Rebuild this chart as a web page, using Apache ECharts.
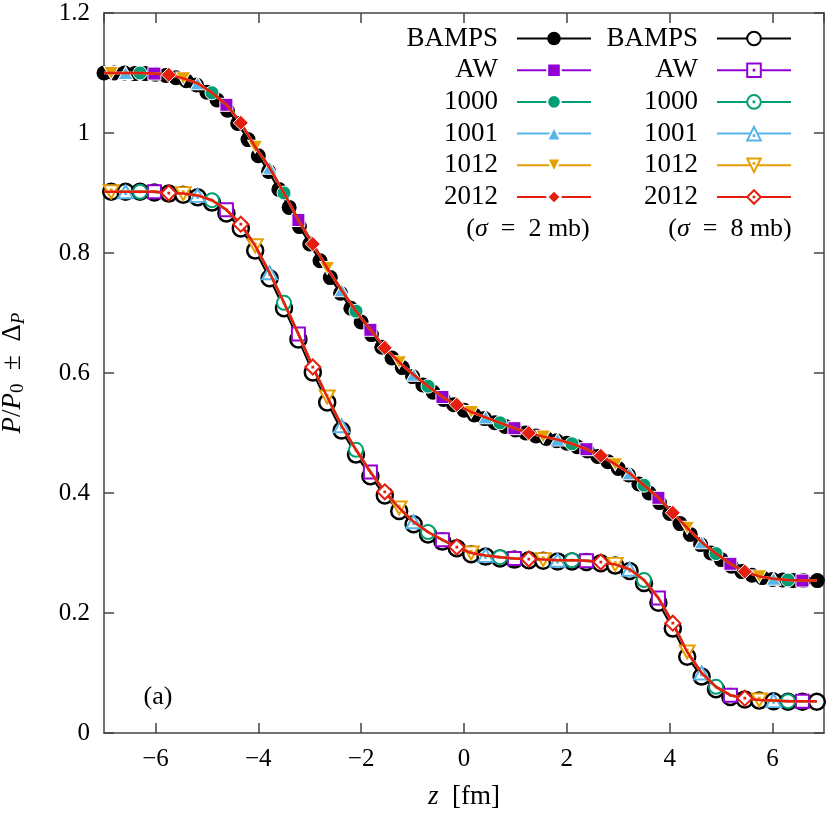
<!DOCTYPE html>
<html>
<head>
<meta charset="utf-8">
<script src="https://cdn.jsdelivr.net/npm/echarts@6/dist/echarts.min.js"></script>
<style>
  html, body { margin: 0; padding: 0; background: #fff; }
  #chart { width: 830px; height: 814px; }
</style>
</head>
<body>
<div id="chart"></div>
<script>
// z grid of the model curves (fm)
const zModel = [-7.0,
  -6.86, -6.58, -6.30, -6.02, -5.74, -5.46, -5.18, -4.90, -4.62, -4.34,
  -4.06, -3.78, -3.50, -3.22, -2.94, -2.66, -2.38, -2.10, -1.82, -1.54,
  -1.26, -0.98, -0.70, -0.42, -0.14, 0.14, 0.42, 0.70, 0.98, 1.26,
  1.54, 1.82, 2.10, 2.38, 2.66, 2.94, 3.22, 3.50, 3.78, 4.06,
  4.34, 4.62, 4.90, 5.18, 5.46, 5.74, 6.02, 6.30, 6.58, 6.86];

// sigma = 2 mb, model curve (all models lie on top of each other)
const upperModel = [1.100,
  1.100, 1.100, 1.100, 1.099, 1.097, 1.091, 1.083, 1.067, 1.047, 1.017,
  0.977, 0.942, 0.900, 0.855, 0.815, 0.775, 0.738, 0.703, 0.672, 0.642,
  0.618, 0.597, 0.578, 0.560, 0.547, 0.535, 0.526, 0.517, 0.508, 0.500,
  0.494, 0.489, 0.482, 0.473, 0.462, 0.448, 0.433, 0.413, 0.392, 0.367,
  0.342, 0.318, 0.299, 0.282, 0.269, 0.261, 0.257, 0.255, 0.254, 0.254];

// sigma = 8 mb, model curve
const lowerModel = [0.902,
  0.902, 0.902, 0.902, 0.902, 0.900, 0.899, 0.896, 0.888, 0.872, 0.848,
  0.812, 0.767, 0.717, 0.665, 0.610, 0.560, 0.512, 0.472, 0.435, 0.402,
  0.375, 0.352, 0.335, 0.322, 0.310, 0.300, 0.296, 0.293, 0.291, 0.290,
  0.289, 0.288, 0.288, 0.287, 0.285, 0.281, 0.273, 0.255, 0.225, 0.183,
  0.135, 0.100, 0.077, 0.063, 0.058, 0.055, 0.054, 0.053, 0.053, 0.053];

// BAMPS sigma = 2 mb
const zBampsUp = [-7.0, -6.8, -6.6, -6.4, -6.2, -6.0, -5.8, -5.6, -5.4, -5.2,
  -5.0, -4.8, -4.6, -4.4, -4.2, -4.0, -3.8, -3.6, -3.4, -3.2,
  -3.0, -2.8, -2.6, -2.4, -2.2, -2.0, -1.8, -1.6, -1.4, -1.2,
  -1.0, -0.8, -0.6, -0.4, -0.2, 0.0, 0.2, 0.4, 0.6, 0.8,
  1.0, 1.2, 1.4, 1.6, 1.8, 2.0, 2.2, 2.4, 2.6, 2.8,
  3.0, 3.2, 3.4, 3.6, 3.8, 4.0, 4.2, 4.4, 4.6, 4.8,
  5.0, 5.2, 5.4, 5.6, 5.8, 6.0, 6.2, 6.4, 6.6, 6.87];
const bampsUp = [1.100, 1.100, 1.100, 1.099, 1.099, 1.098, 1.096, 1.092, 1.087, 1.080,
  1.068, 1.055, 1.038, 1.016, 0.989, 0.962, 0.936, 0.906, 0.876, 0.844,
  0.815, 0.787, 0.759, 0.733, 0.708, 0.685, 0.664, 0.643, 0.625, 0.609,
  0.594, 0.580, 0.568, 0.556, 0.547, 0.538, 0.530, 0.524, 0.517, 0.511,
  0.505, 0.500, 0.495, 0.491, 0.487, 0.483, 0.477, 0.470, 0.461, 0.452,
  0.441, 0.430, 0.415, 0.400, 0.384, 0.366, 0.349, 0.331, 0.314, 0.300,
  0.289, 0.278, 0.269, 0.263, 0.259, 0.256, 0.255, 0.254, 0.254, 0.254];

// BAMPS sigma = 8 mb (on the model grid, without the first point)
const bampsLow = [0.902, 0.902, 0.902, 0.901, 0.899, 0.897, 0.893, 0.884, 0.866, 0.841,
  0.804, 0.758, 0.708, 0.656, 0.601, 0.551, 0.504, 0.464, 0.428, 0.396,
  0.370, 0.348, 0.331, 0.319, 0.308, 0.298, 0.294, 0.291, 0.289, 0.288,
  0.287, 0.286, 0.286, 0.285, 0.283, 0.279, 0.270, 0.250, 0.217, 0.174,
  0.127, 0.094, 0.073, 0.060, 0.056, 0.054, 0.053, 0.052, 0.052, 0.052];

const modelNames = ['AW', '1000', '1001', '1012', '2012'];
const modelColors = ['#9400d3', '#009e73', '#56b4e9', '#e69f00', '#e51e10'];
const markerPhase = [3, 2, 1, 0, 4]; // which grid point carries the marker

const FONT = 'Liberation Serif';

// filled markers (sigma = 2 mb)
const filledSymbols = [
  { symbol: 'rect', size: 13 },
  { symbol: 'circle', size: 14 },
  { symbol: 'triangle', size: [15, 13] },
  { symbol: 'path://M0,0 L20,0 L10,17 Z', size: [15, 13] },
  { symbol: 'diamond', size: [15, 15] }
];
// open markers with a dot in the middle (sigma = 8 mb)
const openSymbols = [
  { symbol: 'path://M0,0 L20,0 L20,20 L0,20 Z M9.5,9.5 L10.5,9.5 L10.5,10.5 L9.5,10.5 Z', size: 13 },
  { symbol: 'path://M10,0 A10,10 0 1,1 10,20 A10,10 0 1,1 10,0 Z M9.5,9.5 L10.5,9.5 L10.5,10.5 L9.5,10.5 Z', size: 14 },
  { symbol: 'path://M10,0 L20,17 L0,17 Z M9.5,10.5 L10.5,10.5 L10.5,11.5 L9.5,11.5 Z', size: [15, 13] },
  { symbol: 'path://M0,0 L20,0 L10,17 Z M9.5,5.5 L10.5,5.5 L10.5,6.5 L9.5,6.5 Z', size: [15, 13] },
  { symbol: 'path://M10,0 L20,10 L10,20 L0,10 Z M9.5,9.5 L10.5,9.5 L10.5,10.5 L9.5,10.5 Z', size: [15, 15] }
];

function modelData(vals, phase) {
  return zModel.map(function (z, i) {
    if (i >= 1 && i < zModel.length - 1 && (i - 1) % 5 === phase) return { value: [z, vals[i]] };
    return { value: [z, vals[i]], symbol: 'none' };
  });
}

const series = [];
// sigma = 2 mb
series.push({
  name: 'BAMPS|2', type: 'line', z: 2,
  data: zBampsUp.map(function (z, i) { return [z, bampsUp[i]]; }),
  symbol: 'circle', symbolSize: 15,
  itemStyle: { color: '#000' },
  lineStyle: { color: '#000', width: 2 }
});
modelNames.forEach(function (n, k) {
  series.push({
    name: n + '|2', type: 'line', z: 3 + k,
    data: modelData(upperModel, markerPhase[k]),
    symbol: filledSymbols[k].symbol, symbolSize: filledSymbols[k].size,
    itemStyle: { color: modelColors[k], borderColor: '#fff', borderWidth: 1 },
    lineStyle: { color: modelColors[k], width: 2.5 }
  });
});
// sigma = 8 mb
series.push({
  name: 'BAMPS|8', type: 'line', z: 2,
  data: zModel.slice(1).map(function (z, i) { return [z, bampsLow[i]]; }),
  symbol: 'circle', symbolSize: 16,
  itemStyle: { color: '#fff', borderColor: '#000', borderWidth: 2.5 },
  lineStyle: { color: '#000', width: 2 }
});
modelNames.forEach(function (n, k) {
  series.push({
    name: n + '|8', type: 'line', z: 3 + k,
    data: modelData(lowerModel, markerPhase[k]),
    symbol: openSymbols[k].symbol, symbolSize: openSymbols[k].size,
    itemStyle: { color: '#fff', borderColor: modelColors[k], borderWidth: 2 },
    lineStyle: { color: modelColors[k], width: 2.5 }
  });
});

function legendFor(tag, right) {
  return {
    orient: 'vertical', align: 'right', right: right, top: 25, padding: 0,
    itemWidth: 74, itemHeight: 17, itemGap: 4.7, selectedMode: false,
    data: ['BAMPS'].concat(modelNames).map(function (n) { return n + '|' + tag; }),
    formatter: function (name) { return name.split('|')[0]; },
    textStyle: { fontFamily: FONT, fontSize: 27, color: '#000', padding: [0, 14, 0, 0] }
  };
}

const axisCommon = {
  axisLine: { show: true, onZero: false, lineStyle: { color: '#444', width: 1.5 } },
  axisTick: { show: true, inside: true, length: 10, lineStyle: { color: '#444', width: 1.5 } },
  splitLine: { show: false }
};
const minus = function (v) { return v < 0 ? '\u2212' + Math.abs(v) : String(v); };
const italic = { fontFamily: FONT, fontSize: 27, fontStyle: 'italic' };

const chart = echarts.init(document.getElementById('chart'));
chart.setOption({
  animation: false,
  backgroundColor: '#fff',
  grid: { left: 104, right: 6, top: 13, bottom: 81, outerBoundsMode: 'none', containLabel: false },
  xAxis: [
    Object.assign({
      type: 'value', position: 'bottom', min: -7, max: 7, splitNumber: 7,
      name: '{i|z}  [fm]', nameLocation: 'middle', nameGap: 50,
      nameTextStyle: { fontFamily: FONT, fontSize: 27, color: '#000', rich: { i: italic } },
      axisLabel: { fontFamily: FONT, fontSize: 25, color: '#000', margin: 14,
        showMinLabel: false, showMaxLabel: false, formatter: minus }
    }, axisCommon),
    Object.assign({
      type: 'value', position: 'top', min: -7, max: 7, splitNumber: 7,
      axisLabel: { show: false }
    }, axisCommon)
  ],
  yAxis: [
    Object.assign({
      type: 'value', position: 'left', min: 0, max: 1.2, interval: 0.2,
      name: '{i|P}/{i|P}{s|0}  ±  Δ{si|P}', nameLocation: 'middle', nameGap: 76, nameRotate: 90,
      nameTextStyle: { fontFamily: FONT, fontSize: 27, color: '#000',
        rich: {
          i: italic,
          s: { fontFamily: FONT, fontSize: 19, padding: [12, 0, 0, 0] },
          si: { fontFamily: FONT, fontSize: 19, fontStyle: 'italic', padding: [12, 0, 0, 0] }
        } },
      axisLabel: { fontFamily: FONT, fontSize: 25, color: '#000', margin: 14 }
    }, axisCommon),
    Object.assign({
      type: 'value', position: 'right', min: 0, max: 1.2, interval: 0.2,
      axisLabel: { show: false }
    }, axisCommon)
  ],
  legend: [legendFor('2', 238), legendFor('8', 38)],
  graphic: [
    { type: 'text', x: 528, y: 229, style: { text: '({i|σ}  =  2 mb)', align: 'center', verticalAlign: 'middle',
      font: '26px ' + FONT, fill: '#000', rich: { i: { fontFamily: FONT, fontSize: 26, fontStyle: 'italic' } } } },
    { type: 'text', x: 730, y: 229, style: { text: '({i|σ}  =  8 mb)', align: 'center', verticalAlign: 'middle',
      font: '26px ' + FONT, fill: '#000', rich: { i: { fontFamily: FONT, fontSize: 26, fontStyle: 'italic' } } } },
    { type: 'text', x: 158, y: 697, style: { text: '(a)', align: 'center', verticalAlign: 'middle',
      font: '26px ' + FONT, fill: '#000' } }
  ],
  series: series
});
</script>
</body>
</html>
